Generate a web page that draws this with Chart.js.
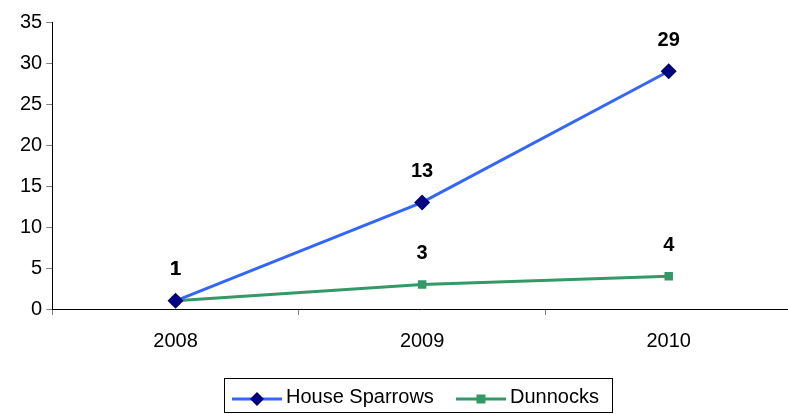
<!DOCTYPE html>
<html>
<head>
<meta charset="UTF-8" />
<title>House Sparrows and Dunnocks</title>
<style>
  html, body { margin: 0; padding: 0; background: #fff; overflow: hidden; }
  /* plot runs slightly past the right edge of the window, as in the original */
  #wrap { width: 800px; height: 414px; position: relative; }
</style>
</head>
<body>
<div id="wrap"><canvas id="birds"></canvas></div>
<script src="https://cdn.jsdelivr.net/npm/chart.js"></script>
<script>
  const years = ['2008', '2009', '2010'];
  const houseSparrows = [1, 13, 29];
  const dunnocks = [1, 3, 4];
  const yTicks = [0, 5, 10, 15, 20, 25, 30, 35];

  const FONT = "'Liberation Sans', Arial, sans-serif";

  // bold value labels above each point
  const valueLabels = {
    id: 'valueLabels',
    afterDatasetsDraw(chart) {
      const ctx = chart.ctx;
      ctx.save();
      ctx.font = 'bold 20px ' + FONT;
      ctx.fillStyle = '#000';
      ctx.textAlign = 'center';
      ctx.textBaseline = 'middle';
      chart.data.datasets.forEach((ds, i) => {
        chart.getDatasetMeta(i).data.forEach((pt, j) => {
          ctx.fillText(String(ds.data[j]), pt.x, pt.y - 31);
        });
      });
      ctx.restore();
    }
  };

  // boxed legend under the chart, line + marker for each series
  const boxedLegend = {
    id: 'boxedLegend',
    afterDraw(chart) {
      const ctx = chart.ctx;
      const ds = chart.data.datasets;
      const cy = 399;
      ctx.save();
      ctx.strokeStyle = '#000';
      ctx.lineWidth = 1;
      ctx.strokeRect(224.5, 378.5, 388, 34);

      const items = [
        { x0: 232, x1: 282, text: 286 },
        { x0: 456, x1: 506, text: 510 }
      ];
      items.forEach((it, i) => {
        const d = ds[i];
        ctx.strokeStyle = d.borderColor;
        ctx.lineWidth = 3;
        ctx.beginPath(); ctx.moveTo(it.x0, cy); ctx.lineTo(it.x1, cy); ctx.stroke();
        ctx.fillStyle = d.pointBackgroundColor;
        const mx = (it.x0 + it.x1) / 2;
        if (d.pointStyle === 'rectRot') {
          ctx.beginPath();
          ctx.moveTo(mx, cy - 7); ctx.lineTo(mx + 7, cy); ctx.lineTo(mx, cy + 7); ctx.lineTo(mx - 7, cy);
          ctx.closePath(); ctx.fill();
        } else {
          ctx.fillRect(mx - 4.5, cy - 4.5, 9, 9);
        }
        ctx.fillStyle = '#000';
        ctx.font = '20px ' + FONT;
        ctx.textAlign = 'left';
        ctx.textBaseline = 'middle';
        ctx.fillText(d.label, it.text, cy - 2);
      });
      ctx.restore();
    }
  };

  const ctx = document.getElementById('birds').getContext('2d');
  new Chart(ctx, {
    type: 'line',
    data: {
      labels: years,
      datasets: [{
        label: 'House Sparrows',
        data: houseSparrows,
        borderColor: '#3366FF',
        borderWidth: 3,
        pointStyle: 'rectRot',
        pointRadius: 8,
        pointBackgroundColor: '#000080',
        pointBorderWidth: 0,
        tension: 0
      }, {
        label: 'Dunnocks',
        data: dunnocks,
        borderColor: '#339966',
        borderWidth: 3,
        pointStyle: 'rect',
        pointRadius: 6,
        pointBackgroundColor: '#339966',
        pointBorderWidth: 0,
        tension: 0
      }]
    },
    options: {
      responsive: true,
      maintainAspectRatio: false,
      animation: false,
      layout: { padding: { left: 16, right: 0, top: 22, bottom: 47 } },
      scales: {
        x: {
          offset: true,
          grid: { display: true, drawOnChartArea: false, drawTicks: true, tickLength: 6, color: '#808080', offset: true },
          border: { color: '#000', width: 1 },
          ticks: { color: '#000', font: { family: FONT, size: 20 }, padding: 14 }
        },
        y: {
          min: 0, max: 35,
          afterBuildTicks(axis) { axis.ticks = yTicks.map(v => ({ value: v })); },
          grid: { display: true, drawOnChartArea: false, drawTicks: true, tickLength: 6, color: '#808080' },
          border: { color: '#000', width: 1 },
          ticks: { color: '#000', font: { family: FONT, size: 20 }, padding: 4 }
        }
      },
      plugins: {
        legend: { display: false },
        tooltip: { enabled: false }
      }
    },
    plugins: [valueLabels, boxedLegend]
  });
</script>
</body>
</html>
